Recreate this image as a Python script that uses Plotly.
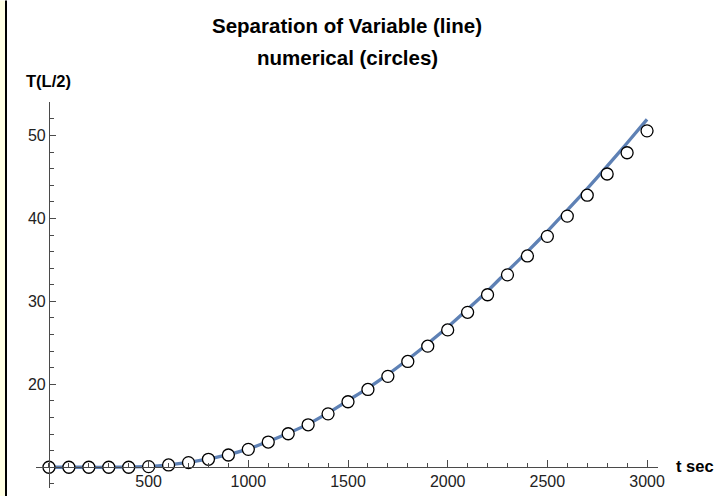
import plotly.graph_objects as go

# ---- data ----
t_vals = [0, 100, 200, 300, 400, 500, 600, 700, 800, 900, 1000, 1100, 1200, 1300, 1400,
          1500, 1600, 1700, 1800, 1900, 2000, 2100, 2200, 2300, 2400, 2500, 2600, 2700,
          2800, 2900, 3000]
T_numerical = [10.0, 10.0, 10.0, 10.0, 10.0, 10.08, 10.28, 10.56, 10.96, 11.48, 12.16,
               13.04, 14.04, 15.12, 16.44, 17.9, 19.38, 20.96, 22.76, 24.6, 26.56, 28.68,
               30.8, 33.2, 35.48, 37.84, 40.28, 42.8, 45.36, 47.92, 50.56]
T_separation = [10.0, 10.0, 10.0, 10.0, 10.02, 10.1, 10.3, 10.6, 11.0, 11.52, 12.22,
                13.1, 14.1, 15.2, 16.55, 18.05, 19.55, 21.2, 23.0, 24.9, 26.9, 29.05,
                31.25, 33.65, 36.0, 38.45, 41.0, 43.6, 46.3, 49.1, 51.95]
x_tick_vals = [500, 1000, 1500, 2000, 2500, 3000]
y_tick_vals = [20, 30, 40, 50]
x_range = [-65, 3055]
y_range = [7.5, 54.04]
x_origin = 0
y_origin = 10

title_lines = ["Separation of Variable (line)", "numerical (circles)"]
x_label = "t sec"
y_label = "T(L/2)"

# ---- layout geometry ----
W, H = 717, 498
ML, MR, MT, MB = 36, 59, 102, 8
PW, PH = W - ML - MR, H - MT - MB


def px_x(p):
    return (p - ML) / PW


def px_y(p):
    return (H - MB - p) / PH


LINE_COLOR = "#5E81B5"
AXIS_COLOR = "#4a4a4a"
FONT = "Liberation Sans, Arial, sans-serif"

fig = go.Figure()
fig.add_trace(go.Scatter(
    x=t_vals, y=T_separation, mode="lines",
    line=dict(color=LINE_COLOR, width=3.3, shape="spline", smoothing=0.6),
    cliponaxis=False, showlegend=False, hoverinfo="skip"))
fig.add_trace(go.Scatter(
    x=t_vals, y=T_numerical, mode="markers",
    marker=dict(size=12, color="white", line=dict(color="black", width=1.3)),
    cliponaxis=False, showlegend=False))

fig.update_layout(
    width=W, height=H,
    margin=dict(l=ML, r=MR, t=MT, b=MB, pad=0),
    paper_bgcolor="white", plot_bgcolor="white",
    font=dict(family=FONT, size=16, color="#222"),
    xaxis=dict(
        range=x_range, anchor="free",
        position=(y_origin - y_range[0]) / (y_range[1] - y_range[0]),
        showgrid=False, zeroline=False, showline=True, linecolor=AXIS_COLOR, linewidth=1,
        tickmode="array", tickvals=x_tick_vals, ticks="inside", ticklen=7,
        tickcolor=AXIS_COLOR, tickwidth=1,
        tickfont=dict(family=FONT, size=16, color="#222"),
        minor=dict(ticks="inside", ticklen=4, tickcolor=AXIS_COLOR, tickwidth=1,
                   tickmode="linear", tick0=0, dtick=100),
    ),
    yaxis=dict(
        range=y_range, anchor="free",
        position=(x_origin - x_range[0]) / (x_range[1] - x_range[0]),
        showgrid=False, zeroline=False, showline=True, linecolor=AXIS_COLOR, linewidth=1,
        tickmode="array", tickvals=y_tick_vals, ticks="inside", ticklen=6,
        tickcolor=AXIS_COLOR, tickwidth=1,
        tickfont=dict(family=FONT, size=16, color="#222"),
        minor=dict(ticks="inside", ticklen=4, tickcolor=AXIS_COLOR, tickwidth=1,
                   tickmode="linear", tick0=0, dtick=2),
    ),
)

bold = dict(family=FONT, size=20.5, color="black")
fig.add_annotation(text="<b>%s</b>" % title_lines[0], xref="paper", yref="paper",
                   x=px_x(347), y=px_y(25), xanchor="center", yanchor="middle",
                   showarrow=False, font=bold)
fig.add_annotation(text="<b>%s</b>" % title_lines[1], xref="paper", yref="paper",
                   x=px_x(347), y=px_y(57), xanchor="center", yanchor="middle",
                   showarrow=False, font=bold)
lab = dict(family=FONT, size=16.5, color="black")
fig.add_annotation(text="<b>%s</b>" % y_label, xref="paper", yref="paper",
                   x=px_x(24), y=px_y(81), xanchor="left", yanchor="middle",
                   showarrow=False, font=lab)
fig.add_annotation(text="<b>%s</b>" % x_label, xref="paper", yref="paper",
                   x=px_x(674), y=px_y(468), xanchor="left", yanchor="middle",
                   showarrow=False, font=lab)

# left frame strip (decoration)
fig.add_shape(type="rect", xref="paper", yref="paper", x0=px_x(0), x1=px_x(5),
              y0=px_y(H), y1=px_y(0), fillcolor="#FFFFE3", line=dict(width=0), layer="below")
fig.add_shape(type="rect", xref="paper", yref="paper", x0=px_x(5), x1=px_x(7),
              y0=px_y(H), y1=px_y(0), fillcolor="black", line=dict(width=0), layer="below")

fig.write_html("out.html")
